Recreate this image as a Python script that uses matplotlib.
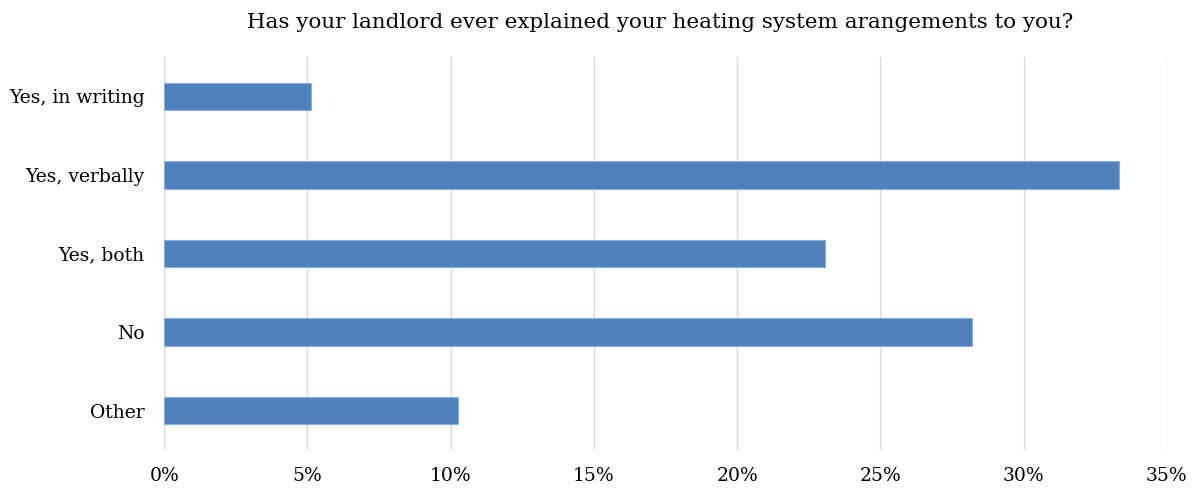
import matplotlib.pyplot as plt
import numpy as np

categories = ["Yes, in writing", "Yes, verbally", "Yes, both", "No", "Other"]
shares = [5.13, 33.33, 23.08, 28.21, 10.26]
ticks = [0, 5, 10, 15, 20, 25, 30, 35]
tick_labels = [f"{t}%" for t in ticks]
title = "Has your landlord ever explained your heating system arangements to you?"

plt.rcParams['font.family'] = ['DejaVu Serif']

fig = plt.figure(figsize=(11.93, 4.88), dpi=100)
ax = fig.add_axes([0.1377, 0.078, 0.8403, 0.805])

y = np.arange(len(categories))
ax.barh(y, shares, height=0.35, color='#4F81BD', edgecolor='#8DB0DA',
        linewidth=0.8, zorder=3)

ax.set_xlim(0, 35)
ax.set_ylim(len(categories) - 0.5, -0.5)
ax.set_xticks(ticks)
ax.set_xticklabels(tick_labels, fontsize=13.5)
ax.set_yticks(y)
ax.set_yticklabels(categories, fontsize=13.5)
ax.tick_params(axis='both', length=0, colors='#000000')
ax.tick_params(axis='x', pad=12)
ax.tick_params(axis='y', pad=14)

ax.grid(axis='x', color='#D9D9D9', linewidth=1, zorder=0)
for s in ax.spines.values():
    s.set_visible(False)

fig.text(0.553, 0.953, title, ha='center', va='center', fontsize=15.4)

fig.savefig("out.png", dpi=100)
